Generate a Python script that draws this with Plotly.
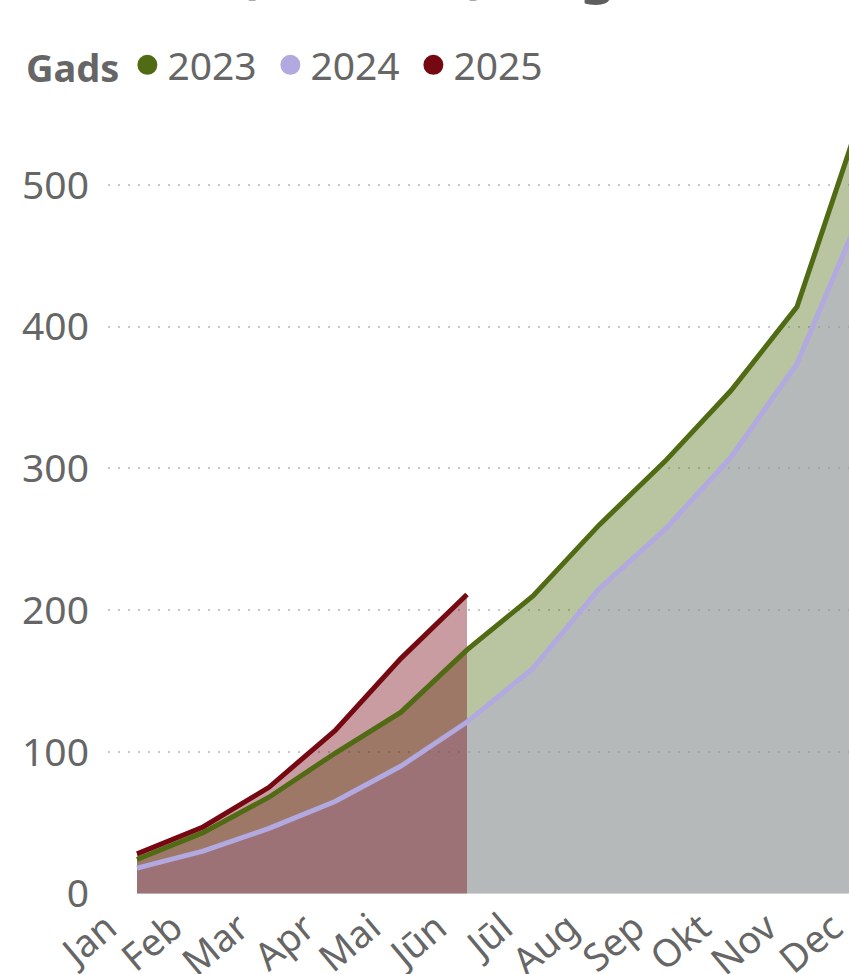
import plotly.graph_objects as go

months = ["Jan", "Feb", "Mar", "Apr", "Mai", "Jūn", "Jūl", "Aug", "Sep", "Okt", "Nov", "Dec"]
years = ["2023", "2024", "2025"]
v2023 = [24, 43, 68, 99, 128, 172, 210, 260, 305, 355, 414, 553]
v2024 = [18, 30, 46, 65, 90, 121, 159, 215, 257, 308, 374, 484]
v2025 = [28, 47, 75, 115, 166, 211]
y_ticks = [0, 100, 200, 300, 400, 500]

series = [v2023, v2024, v2025]
line_colors = ["#506B14", "#B1A9E0", "#760812"]
fill_colors = ["rgba(80,107,20,0.4)", "rgba(177,169,224,0.4)", "rgba(118,8,18,0.4)"]

W, H = 880, 974
mt, mb, ml, mr = 100, 80, 108, 0
step = 66.0
x0 = -29.0 / step
x1 = (W - ml - mr) / step + x0
plot_w = W - ml - mr
plot_h = H - mt - mb

fig = go.Figure()

# area fills (below all lines)
for name, vals, fc in zip(years, series, fill_colors):
    fig.add_trace(go.Scatter(
        x=months[:len(vals)], y=vals, mode="lines", fill="tozeroy",
        fillcolor=fc, line=dict(width=0, color=fc), showlegend=False,
        hoverinfo="skip"))

# lines
for name, vals, lc in zip(years, series, line_colors):
    fig.add_trace(go.Scatter(
        x=months[:len(vals)], y=vals, mode="lines", name=name,
        line=dict(width=5, color=lc, shape="linear"), showlegend=False))

# legend entries (circles)
for name, lc in zip(years, line_colors):
    fig.add_trace(go.Scatter(
        x=[None], y=[None], mode="markers", name=name,
        marker=dict(size=16, color=lc, symbol="circle",
                    line=dict(width=4, color=lc))))

font_family = "Noto Sans, Open Sans, sans-serif"
gray = "#666666"

fig.add_annotation(
    text="<b>Summa (tūkst. €), šogad</b>",
    xref="paper", yref="paper", x=(12 - ml) / plot_w,
    y=(H - mb - 10) / plot_h, xanchor="left", yanchor="bottom",
    showarrow=False, font=dict(family=font_family, size=56, color="#5E5E5E"),
)

fig.update_layout(
    width=W, height=H,
    margin=dict(l=ml, r=mr, t=mt, b=mb, pad=0, autoexpand=False),
    paper_bgcolor="white", plot_bgcolor="white",
    font=dict(family=font_family, size=39, color=gray),
    showlegend=True,
    legend=dict(
        orientation="h", x=(24 - ml) / plot_w, xanchor="left",
        y=(H - mb - 65) / plot_h, yanchor="middle",
        title=dict(text="<b>Gads</b>", font=dict(size=38, color=gray)),
        font=dict(size=39, color=gray), itemwidth=30,
        entrywidth=98, entrywidthmode="pixels",
        bgcolor="rgba(0,0,0,0)", tracegroupgap=0, itemsizing="trace",
    ),
    xaxis=dict(
        type="category", categoryorder="array", categoryarray=months,
        range=[x0, x1], showgrid=False, zeroline=False, showline=False,
        ticks="", tickangle=-40, tickfont=dict(size=38, color=gray),
        ticklabelshift=-30, ticklabelstandoff=3, automargin=False,
    ),
    yaxis=dict(
        range=[-0.3, 560], tickmode="array", tickvals=y_ticks,
        showgrid=True, gridcolor="#C8C8C8", gridwidth=1.5, griddash="2px,8px",
        zeroline=False, showline=False, ticks="", ticklabelstandoff=18,
        tickfont=dict(size=39, color=gray), automargin=False,
    ),
)

fig.write_html("out.html", config={"displayModeBar": False},
               post_script="document.body.style.margin='0px';")
